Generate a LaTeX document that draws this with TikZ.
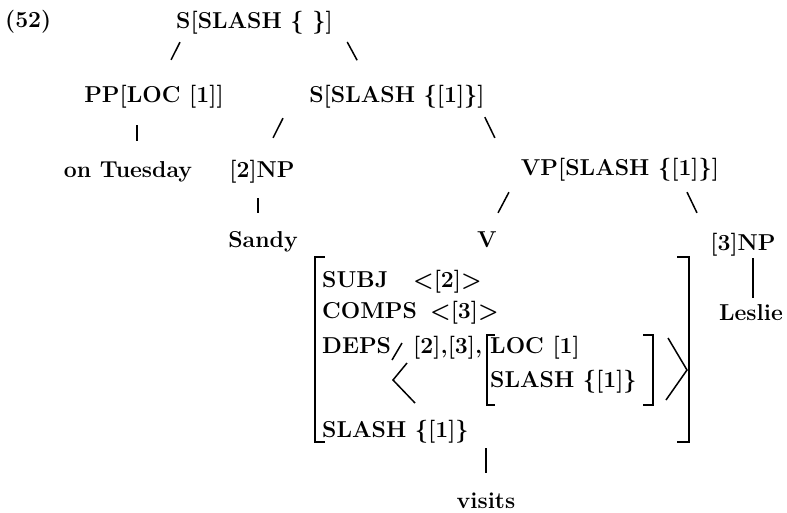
\documentclass[tikz,border=0pt]{standalone}
\usepackage{fontspec}
\usetikzlibrary{calc}
\tikzset{
  cat/.style={inner sep=0pt,anchor=base,
              font=\fontsize{23}{27}\selectfont\bfseries,
              text height=15pt,text depth=5pt},
  feat/.style={cat,anchor=base west},
  br/.style 2 args={line width=1.5pt,shorten <=#1,shorten >=#2},
  brk/.style={line width=1.5pt}
}

\begin{document}
\begin{tikzpicture}[x=1pt,y=-1pt]
  \useasboundingbox (0,0) rectangle (787,512);
  % tree nodes
  \node[feat] (ex) at (5,27) {(52)};
  \node[feat] (root) at (176,28) {S[SLASH \{\ \}]};
  \node[cat] (pp) at (154,102) {PP[LOC [1]]};
  \node[cat] (s1) at (397,102) {S[SLASH \{[1]\}]};
  \node[cat] (tue) at (128,177) {on Tuesday};
  \node[cat] (np2) at (262,177) {[2]NP};
  \node[cat] (vp) at (620,175) {VP[SLASH \{[1]\}]};
  \node[cat] (sandy) at (263,247) {Sandy};
  \node[cat] (v) at (487,247) {V};
  \node[cat] (np3) at (743,250) {[3]NP};
  \node[cat] (leslie) at (751,320) {Leslie};
  \node[cat] (visits) at (486,508) {visits};

  % feature structure of V
  \node[inner sep=0pt,minimum width=374pt,minimum height=185pt] (avm) at (502,349.5) {};
  \node[inner sep=0pt,minimum width=166pt,minimum height=70pt] (inner) at (570,370) {};
  \node[feat] (subj) at (322,287) {SUBJ};
  \node[feat] (subjv) at (413,287) {<[2]>};
  \node[feat] (comps) at (322,318) {COMPS};
  \node[feat] (compsv) at (430,318) {<[3]>};
  \node[feat] (deps) at (322,353) {DEPS};
  \node[feat] (depsv) at (413,353) {[2],[3],};
  \node[feat] (loc) at (490,353) {LOC [1]};
  \node[feat] (islash) at (490,387) {SLASH \{[1]\}};
  \node[feat] (slash) at (322,437) {SLASH \{[1]\}};

  % brackets
  \draw[brk] ([xshift=10pt]avm.north west) -- (avm.north west)
      -- (avm.south west) -- ([xshift=10pt]avm.south west);
  \draw[brk] ([xshift=-12pt]avm.north east) -- (avm.north east)
      -- (avm.south east) -- ([xshift=-12pt]avm.south east);
  \draw[brk] ([xshift=8pt]inner.north west) -- (inner.north west)
      -- (inner.south west) -- ([xshift=8pt]inner.south west);
  \draw[brk] ([xshift=-10pt]inner.north east) -- (inner.north east)
      -- (inner.south east) -- ([xshift=-10pt]inner.south east);
  \draw[brk] (402,343) -- (392,360);
  \draw[brk] (407,363) -- (393,380) -- (415,403);
  \draw[brk] (668,338) -- (687,370) -- (666,400);

  % branches
  \draw[br={10pt}{30.2pt}] ([xshift=8.5pt]root.south west) -- ([xshift=3.5pt]pp.north);
  \draw[br={10pt}{30.2pt}] ([xshift=9.5pt]root.south east) -- ([xshift=-25.5pt]s1.north);
  \draw[br={18pt}{21pt}] ([xshift=-17pt]pp.south) -- ([xshift=9pt]tue.north);
  \draw[br={12.3pt}{26.8pt}] ([xshift=-108.5pt]s1.south) -- ([xshift=-1pt]np2.north);
  \draw[br={11.1pt}{24.4pt}] ([xshift=83pt]s1.south) -- ([xshift=-114.5pt]vp.north);
  \draw[br={16pt}{19pt}] ([xshift=-4pt]np2.south) -- ([xshift=-5pt]sandy.north);
  \draw[br={13.6pt}{21.5pt}] ([xshift=-104.7pt]vp.south) -- ([xshift=1pt]v.north);
  \draw[br={13.3pt}{24.4pt}] ([xshift=61.3pt]vp.south) -- ([xshift=-35.5pt]np3.north);
  \draw[br={3pt}{7pt}] ([xshift=10pt]np3.south) -- ([xshift=2pt]leslie.north);
  \draw[br={6pt}{20pt}] (avm.south -| visits.north) -- (visits.north);
\end{tikzpicture}
\end{document}
